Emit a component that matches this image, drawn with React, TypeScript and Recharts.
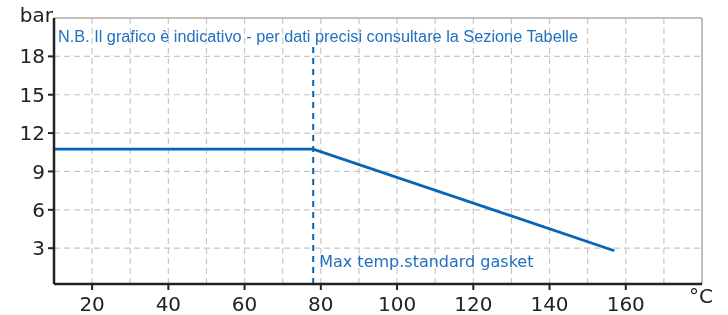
import React from "react"
import {
  LineChart,
  Line,
  XAxis,
  YAxis,
  CartesianGrid,
  ReferenceLine,
  Label,
} from "recharts"

// temperature (°C) vs max pressure (bar)
const temps = [10, 78, 157]
const pressures = [10.75, 10.75, 2.8]

const xTicks = [20, 30, 40, 50, 60, 70, 80, 90, 100, 110, 120, 130, 140, 150, 160, 170]
const xLabels = [20, 40, 60, 80, 100, 120, 140, 160]
const yTicks = [3, 6, 9, 12, 15, 18]

const gasketTemp = 78
const gasketTop = 18.9
const noteText = "N.B. Il grafico è indicativo - per dati precisi consultare la Sezione Tabelle"
const gasketText = "Max temp.standard gasket"

const BLUE = "#0a64b4"
const TEXT_BLUE = "#1f70c0"
const AXIS = "#222"
const GRID = "#c8c8c8"
const BORDER = "#c0c0c0"

const data = temps.map((t, i) => ({ t, p: pressures[i] }))

function XTick(props: any) {
  const { x, y, payload } = props
  if (!xLabels.includes(payload.value)) return <g />
  return (
    <g>
      <line x1={x} x2={x} y1={y - 8} y2={y - 2} stroke={AXIS} strokeWidth={2} />
      <text x={x} y={y + 19} textAnchor="middle" fill="#222" fontSize={20}>
        {payload.value}
      </text>
    </g>
  )
}

export default function App() {
  return (
    <div style={{ position: "fixed", left: 0, top: 0, fontFamily: "DejaVu Sans" }}>
      <LineChart
        width={728}
        height={315}
        data={data}
        margin={{ top: 18, right: 26, left: 10, bottom: 1 }}
      >
        <CartesianGrid stroke={GRID} strokeDasharray="6 4" strokeWidth={1.2} />
        <XAxis
          type="number"
          dataKey="t"
          domain={[10, 180]}
          ticks={xTicks}
          tick={<XTick />}
          tickLine={false}
          axisLine={{ stroke: AXIS, strokeWidth: 2.5 }}
          height={30}
          interval={0}
        >
          <Label
            content={(p: any) => {
              const vb = p.viewBox
              return (
                <text x={vb.x + vb.width - 1} y={vb.y + 19} textAnchor="middle" fill="#222" fontSize={20}>
                  °C
                </text>
              )
            }}
          />
        </XAxis>
        <YAxis
          type="number"
          domain={[0.2, 21]}
          ticks={yTicks}
          width={44}
          tick={{ fill: "#222", fontSize: 20 }}
          tickLine={{ stroke: AXIS, strokeWidth: 2 }}
          tickSize={6}
          tickMargin={3}
          axisLine={{ stroke: AXIS, strokeWidth: 2.5 }}
          interval={0}
        >
          <Label
            content={(p: any) => {
              const vb = p.viewBox
              return (
                <text x={vb.x + vb.width - 1} y={vb.y + 4} textAnchor="end" fill="#222" fontSize={20}>
                  bar
                </text>
              )
            }}
          />
        </YAxis>
        <ReferenceLine
          y={21}
          stroke={BORDER}
          strokeWidth={2}
          label={(p: any) => {
            const vb = p.viewBox
            return (
              <text
                x={vb.x + 4}
                y={vb.y + 24}
                fill={TEXT_BLUE}
                fontSize={16}
                fontFamily="Liberation Sans Narrow, Liberation Sans"
                textLength={520}
                lengthAdjust="spacingAndGlyphs"
              >
                {noteText}
              </text>
            )
          }}
        />
        <ReferenceLine x={180} stroke={BORDER} strokeWidth={2} />
        <ReferenceLine
          segment={[
            { x: gasketTemp, y: 0.2 },
            { x: gasketTemp, y: gasketTop },
          ]}
          stroke={BLUE}
          strokeWidth={2}
          strokeDasharray="6 5"
          label={(p: any) => {
            const vb = p.viewBox
            return (
              <text
                x={vb.x + 6}
                y={vb.y + vb.height - 17}
                fill={TEXT_BLUE}
                fontSize={16}
                fontFamily="DejaVu Sans"
              >
                {gasketText}
              </text>
            )
          }}
        />
        <Line
          type="linear"
          dataKey="p"
          stroke={BLUE}
          strokeWidth={2.8}
          dot={false}
          isAnimationActive={false}
        />
      </LineChart>
    </div>
  )
}
